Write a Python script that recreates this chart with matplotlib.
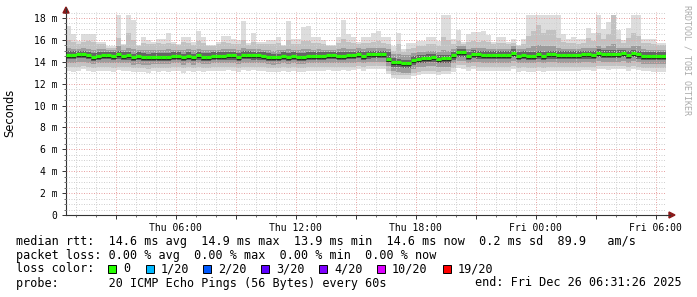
import matplotlib
matplotlib.use("Agg")
import matplotlib.pyplot as plt
import matplotlib.dates as mdates
import matplotlib.ticker as ticker
import matplotlib.transforms as mtransforms
from matplotlib.lines import Line2D
from matplotlib.patches import Rectangle, Polygon
import pandas as pd

# --- data: 15 min bins, values in ms ---
start = "2025-12-25 00:31:26"
n_bins = 120

median = [14.65, 14.65, 14.68, 14.72, 14.62, 14.47, 14.55, 14.62, 14.6, 14.55,
          14.7, 14.55, 14.6, 14.4, 14.55, 14.47, 14.4, 14.47, 14.47, 14.47,
          14.47, 14.52, 14.52, 14.42, 14.52, 14.42, 14.6, 14.47, 14.47, 14.52,
          14.52, 14.52, 14.6, 14.6, 14.47, 14.65, 14.65, 14.6, 14.6, 14.52,
          14.47, 14.4, 14.45, 14.52, 14.45, 14.52, 14.47, 14.47, 14.52, 14.52,
          14.55, 14.55, 14.6, 14.6, 14.52, 14.55, 14.6, 14.6, 14.72, 14.55,
          14.68, 14.72, 14.72, 14.72, 14.3, 13.95, 13.95, 13.86, 13.86, 14.17,
          14.3, 14.32, 14.38, 14.44, 14.26, 14.32, 14.32, 14.6, 14.86, 14.86,
          14.52, 14.74, 14.7, 14.62, 14.62, 14.62, 14.62, 14.62, 14.62, 14.83,
          14.55, 14.62, 14.55, 14.55, 14.68, 14.55, 14.68, 14.7, 14.62, 14.62,
          14.62, 14.62, 14.62, 14.7, 14.7, 14.62, 14.83, 14.72, 14.72, 14.72,
          14.72, 14.78, 14.62, 14.78, 14.7, 14.52, 14.52, 14.52, 14.52, 14.52]

# smoke envelope (outer -> inner)
top = [17.3, 16.5, 15.9, 16.5, 16.5, 16.5, 15.8, 15.8, 15.4, 15.4,
       18.3, 15.6, 18.3, 17.8, 15.5, 16.3, 16.0, 15.8, 16.1, 16.1,
       16.6, 15.8, 15.6, 16.3, 16.3, 15.8, 16.8, 16.3, 15.5, 15.5,
       15.8, 16.4, 16.4, 16.1, 16.0, 17.7, 15.7, 16.6, 15.8, 15.8,
       16.0, 16.0, 16.25, 15.5, 17.7, 16.1, 16.1, 17.2, 17.3, 16.3,
       16.3, 16.0, 15.5, 15.5, 16.3, 17.8, 16.5, 16.3, 15.8, 16.3,
       16.3, 16.6, 16.8, 16.3, 16.3, 15.4, 16.6, 15.2, 15.7, 15.7,
       15.9, 15.9, 16.3, 16.3, 15.9, 18.3, 18.3, 16.1, 16.9, 15.8,
       16.5, 16.7, 16.7, 16.8, 16.45, 15.8, 16.3, 16.3, 15.8, 16.1,
       15.5, 16.1, 18.3, 18.3, 18.3, 18.3, 18.3, 18.3, 18.3, 16.5,
       16.1, 16.3, 16.1, 16.1, 17.05, 16.6, 18.3, 17.0, 17.6, 18.3,
       16.9, 16.0, 17.05, 18.3, 18.3, 16.1, 16.1, 16.1, 15.7, 15.7]

hi2 = [16.0, 15.8, 15.6, 15.8, 15.9, 15.8, 15.6, 15.6, 15.3, 15.3,
       16.2, 15.5, 16.6, 16.0, 15.4, 15.7, 15.6, 15.6, 15.7, 15.6,
       15.7, 15.6, 15.5, 15.8, 15.7, 15.5, 15.9, 15.7, 15.4, 15.4,
       15.6, 15.8, 15.7, 15.6, 15.6, 16.0, 15.5, 15.8, 15.6, 15.6,
       15.6, 15.6, 15.7, 15.4, 16.0, 15.6, 15.6, 15.9, 15.9, 15.7,
       15.7, 15.6, 15.4, 15.4, 15.7, 16.1, 15.8, 15.7, 15.6, 15.7,
       15.7, 15.8, 15.9, 15.7, 15.6, 15.0, 15.6, 14.9, 15.2, 15.3,
       15.4, 15.4, 15.6, 15.6, 15.4, 16.3, 16.0, 15.6, 15.9, 15.6,
       15.8, 15.9, 15.8, 15.9, 15.8, 15.6, 15.7, 15.7, 15.6, 15.7,
       15.4, 15.6, 16.4, 16.8, 17.4, 16.6, 16.9, 16.9, 16.2, 15.8,
       15.7, 15.7, 15.6, 15.7, 16.2, 15.9, 16.6, 16.1, 16.5, 18.3,
       16.1, 15.7, 16.2, 16.6, 16.4, 15.7, 15.7, 15.6, 15.5, 15.5]

hi3 = [15.3, 15.2, 15.2, 15.3, 15.2, 15.1, 15.2, 15.2, 15.1, 15.1,
       15.4, 15.1, 15.3, 15.2, 15.1, 15.1, 15.1, 15.1, 15.1, 15.1,
       15.2, 15.1, 15.1, 15.1, 15.2, 15.1, 15.2, 15.1, 15.1, 15.1,
       15.1, 15.2, 15.2, 15.2, 15.1, 15.3, 15.2, 15.2, 15.2, 15.1,
       15.1, 15.0, 15.1, 15.1, 15.2, 15.1, 15.1, 15.2, 15.2, 15.1,
       15.2, 15.1, 15.1, 15.1, 15.2, 15.3, 15.2, 15.2, 15.3, 15.2,
       15.3, 15.3, 15.3, 15.3, 15.2, 14.7, 14.7, 14.6, 14.6, 14.8,
       14.9, 14.9, 15.0, 15.0, 14.9, 15.1, 15.0, 15.2, 15.4, 15.4,
       15.2, 15.3, 15.3, 15.3, 15.2, 15.2, 15.2, 15.2, 15.2, 15.4,
       15.2, 15.2, 15.3, 15.4, 15.5, 15.4, 15.4, 15.4, 15.3, 15.2,
       15.2, 15.2, 15.2, 15.3, 15.3, 15.3, 15.4, 15.3, 15.4, 15.6,
       15.3, 15.3, 15.3, 15.4, 15.4, 15.2, 15.1, 15.1, 15.1, 15.1]

hi4 = [14.95, 14.95, 15.0, 15.0, 14.9, 14.8, 14.85, 14.9, 14.9, 14.85,
       15.0, 14.85, 14.9, 14.75, 14.85, 14.8, 14.75, 14.8, 14.8, 14.8,
       14.8, 14.85, 14.85, 14.75, 14.85, 14.75, 14.9, 14.8, 14.8, 14.85,
       14.85, 14.85, 14.9, 14.9, 14.8, 14.95, 14.95, 14.9, 14.9, 14.85,
       14.8, 14.75, 14.75, 14.85, 14.8, 14.85, 14.8, 14.8, 14.85, 14.85,
       14.85, 14.85, 14.9, 14.9, 14.85, 14.9, 14.9, 14.9, 15.0, 14.9,
       15.0, 15.0, 15.0, 15.0, 14.85, 14.35, 14.3, 14.2, 14.2, 14.5,
       14.6, 14.65, 14.7, 14.75, 14.6, 14.65, 14.65, 14.9, 15.15, 15.15,
       14.85, 15.05, 15.0, 14.95, 14.95, 14.95, 14.95, 14.95, 14.95, 15.15,
       14.9, 14.95, 14.9, 14.9, 15.0, 14.9, 15.0, 15.0, 14.95, 14.95,
       14.95, 14.95, 14.95, 15.0, 15.0, 14.95, 15.15, 15.05, 15.05, 15.1,
       15.05, 15.1, 14.95, 15.1, 15.0, 14.85, 14.85, 14.85, 14.85, 14.85]

lo4 = [14.3, 14.3, 14.35, 14.35, 14.25, 14.1, 14.2, 14.25, 14.25, 14.2,
       14.3, 14.2, 14.2, 14.05, 14.15, 14.1, 14.05, 14.1, 14.1, 14.1,
       14.1, 14.15, 14.15, 14.05, 14.15, 14.05, 14.2, 14.1, 14.1, 14.15,
       14.15, 14.15, 14.2, 14.2, 14.1, 14.25, 14.25, 14.2, 14.2, 14.15,
       14.1, 14.05, 14.1, 14.15, 14.1, 14.15, 14.1, 14.1, 14.15, 14.15,
       14.2, 14.2, 14.25, 14.25, 14.15, 14.2, 14.25, 14.25, 14.35, 14.2,
       14.3, 14.35, 14.35, 14.35, 13.95, 13.5, 13.5, 13.4, 13.4, 13.75,
       13.9, 13.9, 13.95, 14.0, 13.85, 13.9, 13.9, 14.2, 14.45, 14.45,
       14.15, 14.35, 14.3, 14.25, 14.25, 14.25, 14.25, 14.25, 14.25, 14.45,
       14.2, 14.25, 14.2, 14.2, 14.3, 14.2, 14.3, 14.3, 14.25, 14.25,
       14.25, 14.25, 14.25, 14.3, 14.3, 14.25, 14.45, 14.35, 14.35, 14.35,
       14.35, 14.4, 14.25, 14.4, 14.3, 14.15, 14.15, 14.15, 14.15, 14.15]

lo3 = [13.9, 13.9, 13.95, 13.95, 13.9, 13.8, 13.85, 13.9, 13.9, 13.85,
       13.9, 13.85, 13.85, 13.75, 13.8, 13.75, 13.7, 13.8, 13.8, 13.8,
       13.8, 13.85, 13.85, 13.75, 13.85, 13.75, 13.85, 13.8, 13.8, 13.85,
       13.85, 13.85, 13.9, 13.9, 13.8, 13.9, 13.9, 13.9, 13.85, 13.85,
       13.8, 13.75, 13.8, 13.85, 13.8, 13.85, 13.8, 13.8, 13.85, 13.85,
       13.85, 13.85, 13.9, 13.9, 13.85, 13.9, 13.9, 13.9, 14.0, 13.9,
       13.95, 14.0, 14.0, 14.0, 13.6, 13.15, 13.1, 13.0, 13.0, 13.35,
       13.5, 13.55, 13.6, 13.6, 13.5, 13.55, 13.55, 13.85, 14.1, 14.1,
       13.85, 14.0, 13.95, 13.9, 13.9, 13.9, 13.9, 13.9, 13.9, 14.05,
       13.85, 13.9, 13.85, 13.85, 13.95, 13.85, 13.95, 13.95, 13.9, 13.9,
       13.9, 13.9, 13.9, 13.95, 13.95, 13.9, 14.05, 14.0, 14.0, 14.0,
       14.0, 14.05, 13.9, 14.05, 13.95, 13.8, 13.8, 13.8, 13.8, 13.8]

lo2 = [13.55, 13.5, 13.55, 13.6, 13.5, 13.45, 13.5, 13.5, 13.5, 13.45,
       13.55, 13.5, 13.5, 13.4, 13.45, 13.4, 13.35, 13.45, 13.45, 13.45,
       13.45, 13.5, 13.5, 13.4, 13.5, 13.4, 13.5, 13.45, 13.45, 13.5,
       13.5, 13.5, 13.55, 13.55, 13.45, 13.55, 13.55, 13.55, 13.5, 13.5,
       13.45, 13.4, 13.45, 13.5, 13.45, 13.5, 13.45, 13.45, 13.5, 13.5,
       13.5, 13.5, 13.55, 13.55, 13.5, 13.55, 13.55, 13.55, 13.6, 13.55,
       13.6, 13.65, 13.65, 13.6, 13.2, 12.8, 12.8, 12.75, 12.75, 13.0,
       13.1, 13.15, 13.2, 13.2, 13.1, 13.15, 13.15, 13.45, 13.7, 13.7,
       13.5, 13.6, 13.55, 13.5, 13.5, 13.5, 13.5, 13.5, 13.5, 13.65,
       13.45, 13.5, 13.45, 13.45, 13.55, 13.45, 13.55, 13.55, 13.5, 13.5,
       13.5, 13.5, 13.5, 13.55, 13.55, 13.5, 13.65, 13.6, 13.6, 13.6,
       13.6, 13.65, 13.5, 13.65, 13.55, 13.45, 13.45, 13.45, 13.45, 13.45]

bottom = [13.2, 13.1, 13.2, 13.3, 13.2, 13.1, 13.2, 13.15, 13.2, 13.1,
          13.25, 13.2, 13.15, 13.05, 13.1, 13.1, 13.0, 13.15, 13.1, 13.15,
          13.1, 13.2, 13.15, 13.0, 13.2, 13.05, 13.2, 13.1, 13.15, 13.2,
          13.2, 13.15, 13.25, 13.2, 13.1, 13.25, 13.2, 13.25, 13.2, 13.15,
          13.1, 13.05, 13.1, 13.2, 13.1, 13.15, 13.1, 13.1, 13.2, 13.15,
          13.2, 13.15, 13.25, 13.2, 13.15, 13.25, 13.2, 13.25, 13.3, 13.2,
          13.3, 13.3, 13.35, 13.3, 12.9, 12.5, 12.45, 12.4, 12.45, 12.7,
          12.8, 12.85, 12.9, 12.85, 12.75, 12.85, 12.85, 13.1, 13.4, 13.35,
          13.2, 13.3, 13.2, 13.2, 13.15, 13.2, 13.2, 13.15, 13.2, 13.3,
          13.1, 13.2, 13.1, 13.1, 13.2, 13.1, 13.2, 13.2, 13.15, 13.2,
          13.2, 13.15, 13.2, 13.25, 13.25, 13.2, 13.35, 13.3, 13.25, 13.3,
          13.3, 13.35, 13.2, 13.35, 13.25, 13.15, 13.15, 13.1, 13.1, 13.1]

stats_line = "median rtt:  14.6 ms avg  14.9 ms max  13.9 ms min  14.6 ms now  0.2 ms sd  89.9   am/s"
loss_line = "packet loss: 0.00 % avg  0.00 % max  0.00 % min  0.00 % now"
probe_line = "probe:       20 ICMP Echo Pings (56 Bytes) every 60s"
end_line = "end: Fri Dec 26 06:31:26 2025"
loss_labels = ["0", "1/20", "2/20", "3/20", "4/20", "10/20", "19/20"]
loss_colors = ["#26ff00", "#00b8ff", "#0059ff", "#5e00ff", "#7e00ff", "#dd00ff", "#ff0000"]

# --- figure, laid out in pixels ---
W, H = 697, 297
fig = plt.figure(figsize=(W / 100, H / 100), dpi=100)
fig.patch.set_facecolor("white")
MONO = "DejaVu Sans Mono"


def fx(x):
    return x / W


def fy(y):
    return 1 - y / H


X0, X1, Y0, Y1 = 66, 666, 215, 12
ax = fig.add_axes([fx(X0), fy(Y0), (X1 - X0) / W, (Y0 - Y1) / H])
ax.set_facecolor("white")

edges = mdates.date2num(pd.date_range(start, periods=n_bins + 1, freq="15min"))

layers = [(bottom, top, "#dddddd"), (lo2, hi2, "#c2c2c2"),
          (lo3, hi3, "#9c9c9c"), (lo4, hi4, "#646464")]
for lo, hi, col in layers:
    ax.stairs(hi, edges, baseline=lo, fill=True, color=col, lw=0, zorder=1)

# median: dark rule under a green band
dark_off = mtransforms.offset_copy(ax.transData, fig=fig, x=0, y=-2, units="dots")
ax.hlines(median, edges[:-1], edges[1:], colors="#202020", lw=0.8,
          transform=dark_off, zorder=3, capstyle="butt")
ax.hlines(median, edges[:-1], edges[1:], colors=loss_colors[0], lw=2.3,
          zorder=4, capstyle="butt")

ax.set_xlim(edges[0], edges[-1])
ax.set_ylim(0, 18.55)

# grid
ax.xaxis.set_major_locator(mdates.HourLocator(byhour=range(0, 24, 3)))
ax.xaxis.set_minor_locator(mdates.HourLocator())
ax.xaxis.set_major_formatter(ticker.FuncFormatter(
    lambda v, p: mdates.num2date(v).strftime("%a %H:%M") if mdates.num2date(v).hour % 6 == 0 else ""))
ax.yaxis.set_major_locator(ticker.MultipleLocator(2))
ax.yaxis.set_minor_locator(ticker.MultipleLocator(0.5))
ax.yaxis.set_major_formatter(ticker.FuncFormatter(lambda v, p: "0" if v == 0 else f"{v:.0f} m"))

ax.set_axisbelow(False)
ax.grid(which="minor", color="#d0d0d0", lw=0.72, ls=(0, (1, 1.5)), zorder=2)
ax.grid(which="major", color="#e8a4a4", lw=0.72, ls=(0, (1, 1.5)), zorder=2)

ax.tick_params(axis="both", which="major", direction="out", length=3, width=0.7,
               color="#333333", labelsize=7, labelcolor="black", pad=3)
ax.tick_params(axis="both", which="minor", direction="out", length=1.5, width=0.6,
               color="#555555")
for lab in ax.get_xticklabels() + ax.get_yticklabels():
    lab.set_family(MONO)

for s in ["top", "right"]:
    ax.spines[s].set_visible(False)
for s in ["left", "bottom"]:
    ax.spines[s].set_color("#333333")
    ax.spines[s].set_linewidth(0.8)

# axis arrows
fig.add_artist(Line2D([fx(X0), fx(X0)], [fy(Y1), fy(8)], color="#333333", lw=0.8))
fig.add_artist(Line2D([fx(X1), fx(670)], [fy(Y0), fy(Y0)], color="#333333", lw=0.8))
fig.add_artist(Polygon([(fx(X0 - 3), fy(13)), (fx(X0 + 3), fy(13)), (fx(X0), fy(7))],
                       closed=True, color="#8b1a1a", transform=fig.transFigure))
fig.add_artist(Polygon([(fx(669), fy(Y0 - 3)), (fx(669), fy(Y0 + 3)), (fx(675), fy(Y0))],
                       closed=True, color="#8b1a1a", transform=fig.transFigure))

# labels
fig.text(fx(10), fy(113), "Seconds", rotation=90, ha="center", va="center", fontsize=8.3)
fig.text(fx(687), fy(60), "RRDTOOL / TOBI OETIKER", rotation=270, ha="center", va="center",
         fontsize=6, family=MONO, color="#aaaaaa")

# legend block
fig.text(fx(16), fy(241), stats_line, family=MONO, fontsize=8.5, va="center")
fig.text(fx(16), fy(255), loss_line, family=MONO, fontsize=8.5, va="center")
fig.text(fx(16), fy(269), "loss color:", family=MONO, fontsize=8.5, va="center")
fig.text(fx(16), fy(283), probe_line, family=MONO, fontsize=8.5, va="center")
fig.text(fx(682), fy(283), end_line, family=MONO, fontsize=8.5, va="center", ha="right")

box_x = [108, 146, 203, 261, 319, 377, 443]
for bx, lab, col in zip(box_x, loss_labels, loss_colors):
    fig.add_artist(Rectangle((fx(bx), fy(273)), 8 / W, 8 / H, facecolor=col,
                             edgecolor="black", lw=0.7, transform=fig.transFigure))
    fig.text(fx(bx + 15), fy(269), lab, family=MONO, fontsize=8.5, va="center")

fig.savefig("out.png", dpi=100, facecolor="white")
